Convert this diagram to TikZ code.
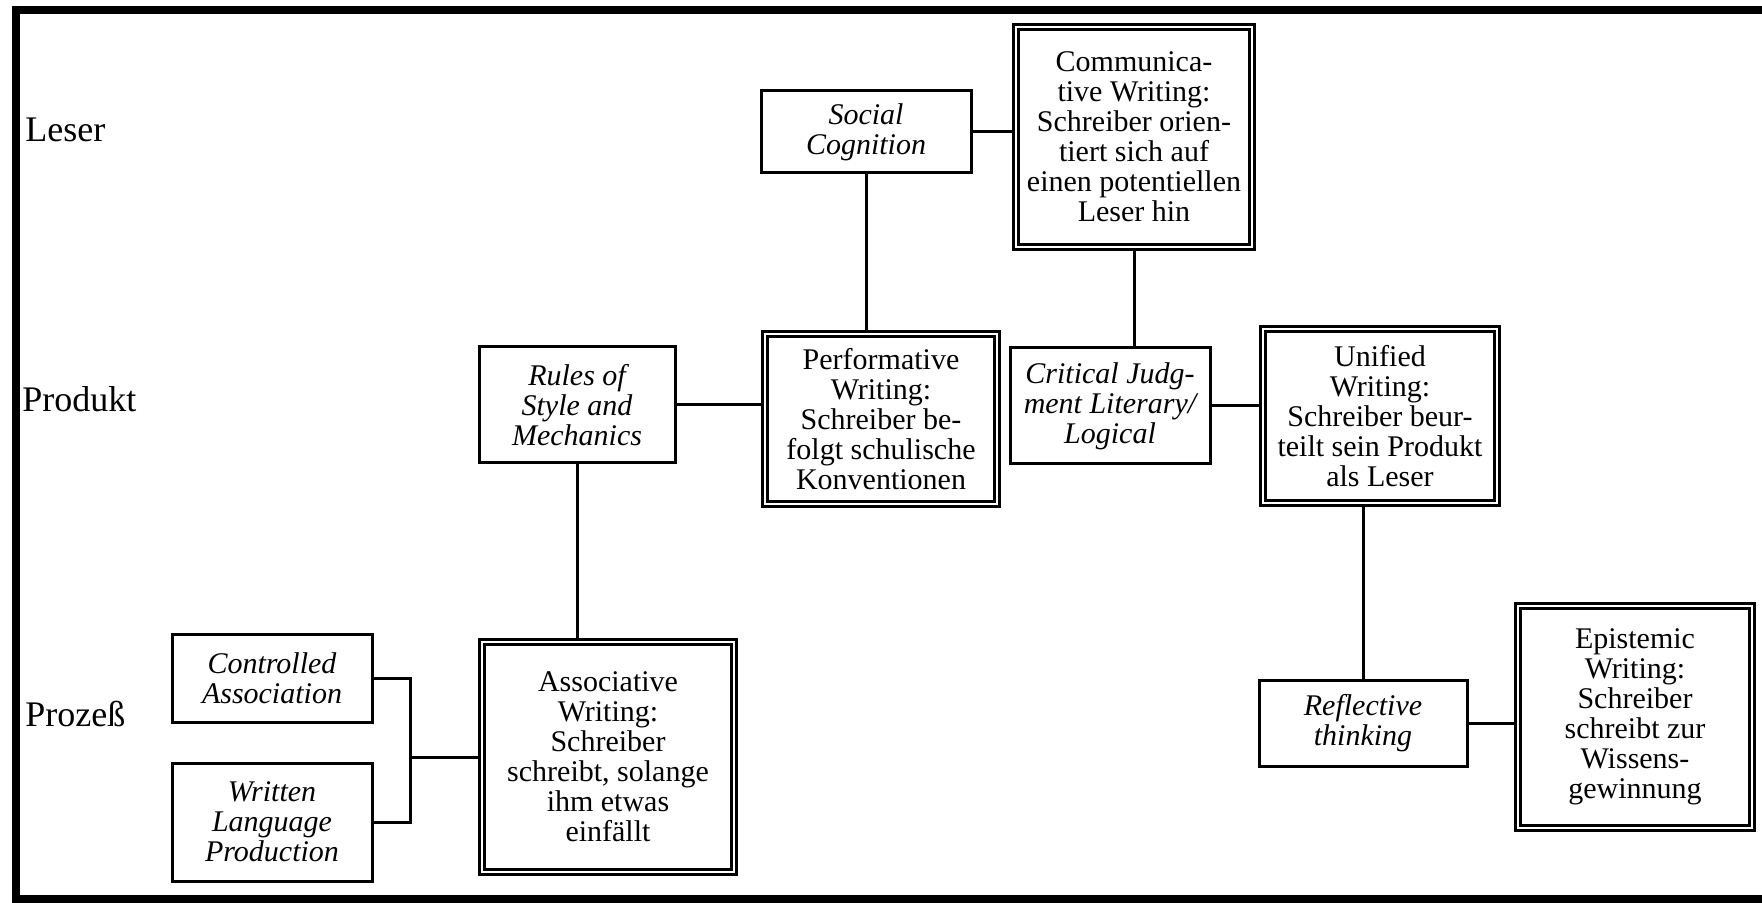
\documentclass[tikz,border=0pt]{standalone}
\usepackage{fontspec}
\setmainfont{Liberation Serif}
\tikzset{idea/.style={draw,line width=1.5pt,align=center,inner sep=2pt,font=\fontsize{15}{15}\selectfont\itshape},
         writing/.style={draw,line width=1.1pt,double,double distance=1.4pt,align=center,inner sep=2pt,font=\fontsize{15}{15}\selectfont},
         level/.style={anchor=west,inner sep=0pt,font=\fontsize{18}{20}\selectfont},
         link/.style={line width=1.5pt},
         frame/.style={line width=4pt,line join=miter}}

\begin{document}
\begin{tikzpicture}[x=0.5pt,y=-0.5pt]
                  \useasboundingbox (0,0) rectangle (1762,903);
                  \draw[frame] (1790,10) -- (16,10) -- (16,899) -- (1790,899);
                  \node[level] (leser) at (25,130) {Leser};
                  \node[level] (produkt) at (22,399) {Produkt};
                  \node[level] (prozess) at (25,714) {Prozeß};
                  \node[idea,minimum width=105pt,minimum height=41pt] (social) at (866,132) {Social\\Cognition};
                  \node[writing,minimum width=118pt,minimum height=110pt] (comm) at (1134,137) {Communica-\\tive Writing:\\Schreiber orien-\\tiert sich auf\\einen potentiellen\\Leser hin};
                  \node[idea,minimum width=98pt,minimum height=58pt] (rules) at (577,405) {Rules of\\Style and\\Mechanics};
                  \node[writing,minimum width=116pt,minimum height=85pt] (perf) at (881,419) {Performative\\Writing:\\Schreiber be-\\folgt schulische\\Konventionen};
                  \node[idea,minimum width=100pt,minimum height=58pt] (crit) at (1110,406) {Critical Judg-\\ment Literary/\\Logical};
                  \node[writing,minimum width=117pt,minimum height=87pt] (unif) at (1380,416) {Unified\\Writing:\\Schreiber beur-\\teilt sein Produkt\\als Leser};
                  \node[idea,minimum width=100pt,minimum height=44pt] (contr) at (272,678) {Controlled\\Association};
                  \node[idea,minimum width=100pt,minimum height=59pt] (writ) at (272,822) {Written\\Language\\Production};
                  \node[writing,minimum width=126pt,minimum height=115pt] (assoc) at (608,757) {Associative\\Writing:\\Schreiber\\schreibt, solange\\ihm etwas\\einfällt};
                  \node[idea,minimum width=104pt,minimum height=43pt] (refl) at (1363,723) {Reflective\\thinking};
                  \node[writing,line width=1.5pt,minimum width=117pt,minimum height=111pt] (epist) at (1635,717) {Epistemic\\Writing:\\Schreiber\\schreibt zur\\Wissens-\\gewinnung};
                  \coordinate (fork) at (410,760);
                  \draw[link] (social.east) -- (social.east -| comm.west);
                  \draw[link] (social.south) -- (social.south |- perf.north);
                  \draw[link] (comm.south) -- (comm.south |- crit.north);
                  \draw[link] (rules.east) -- (rules.east -| perf.west);
                  \draw[link] (crit.east) -- (crit.east -| unif.west);
                  \draw[link] (rules.south) -- (rules.south |- assoc.north);
                  \draw[link] (refl.north) -- (refl.north |- unif.south);
                  \draw[link] (refl.east) -- (refl.east -| epist.west);
                  \draw[link] (contr.east) -| (fork |- writ.east) -- (writ.east);
                  \draw[link] (assoc.west -| fork) -- (assoc.west);
              \end{tikzpicture}
\end{document}
